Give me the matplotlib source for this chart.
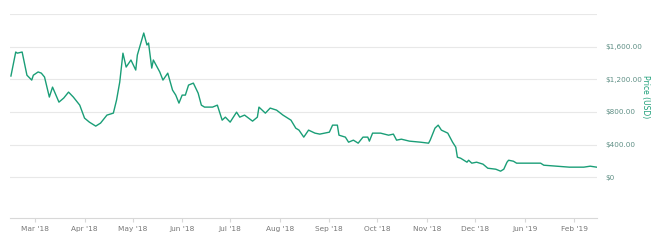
import matplotlib
matplotlib.use("Agg")
import matplotlib.pyplot as plt
import numpy as np

# price readings (USD) off the reference
dates = [
    "2018-02-14", "2018-02-17", "2018-02-18", "2018-02-21", "2018-02-24", "2018-02-27",
    "2018-02-28", "2018-03-03", "2018-03-05", "2018-03-07", "2018-03-10", "2018-03-12",
    "2018-03-16", "2018-03-19", "2018-03-22", "2018-03-25", "2018-03-29", "2018-04-01",
    "2018-04-04", "2018-04-08", "2018-04-11", "2018-04-15", "2018-04-19", "2018-04-21",
    "2018-04-23", "2018-04-25", "2018-04-27", "2018-04-30", "2018-05-03", "2018-05-04",
    "2018-05-08", "2018-05-10", "2018-05-11", "2018-05-13", "2018-05-14", "2018-05-18",
    "2018-05-20", "2018-05-23", "2018-05-26", "2018-05-28", "2018-05-30", "2018-06-01",
    "2018-06-03", "2018-06-05", "2018-06-08", "2018-06-11", "2018-06-13", "2018-06-15",
    "2018-06-20", "2018-06-23", "2018-06-26", "2018-06-28", "2018-07-01", "2018-07-03",
    "2018-07-05", "2018-07-07", "2018-07-10", "2018-07-15", "2018-07-18", "2018-07-19",
    "2018-07-23", "2018-07-26", "2018-07-30", "2018-08-03", "2018-08-08", "2018-08-11",
    "2018-08-13", "2018-08-16", "2018-08-19", "2018-08-23", "2018-08-26", "2018-08-29",
    "2018-09-01", "2018-09-03", "2018-09-06", "2018-09-07", "2018-09-11", "2018-09-13",
    "2018-09-16", "2018-09-19", "2018-09-22", "2018-09-25", "2018-09-26", "2018-09-28",
    "2018-10-03", "2018-10-08", "2018-10-11", "2018-10-13", "2018-10-16", "2018-10-21",
    "2018-10-28", "2018-11-02", "2018-11-03", "2018-11-06", "2018-11-08", "2018-11-10",
    "2018-11-14", "2018-11-17", "2018-11-19", "2018-11-20", "2018-11-22", "2018-11-26",
    "2018-11-27", "2018-11-29", "2018-12-02", "2018-12-06", "2018-12-09", "2018-12-14",
    "2018-12-17", "2018-12-19", "2018-12-21", "2018-12-22", "2018-12-25", "2018-12-27",
    "2019-01-04", "2019-01-11", "2019-01-13", "2019-01-21", "2019-01-29", "2019-02-07",
    "2019-02-11", "2019-02-15",
]
prices = [
    1240, 1534, 1520, 1534, 1250, 1190,
    1250, 1290, 1275, 1227, 982, 1104,
    920, 970, 1043, 982, 883, 724,
    675, 626, 663, 761, 785, 945,
    1166, 1520, 1350, 1436, 1313, 1497,
    1767, 1620, 1644, 1337, 1436, 1290,
    1190, 1275, 1067, 1006, 908, 1006,
    1006, 1129, 1153, 1030, 883, 859,
    859, 883, 699, 736, 675, 736,
    797, 736, 761, 687, 736, 859,
    785, 847, 822, 761, 699, 601,
    577, 491, 577, 540, 528, 540,
    552, 638, 638, 515, 491, 429,
    454, 417, 491, 491, 442, 540,
    540, 515, 528, 454, 466, 442,
    429, 417, 454, 601, 638, 577,
    540, 429, 368, 245, 233, 184,
    208, 172, 184, 160, 110, 98,
    74, 98, 184, 208, 196, 172,
    172, 172, 147, 135, 123, 123,
    135, 123,
]

tick_dates = ["2018-03-01", "2018-04-01", "2018-05-01", "2018-06-01", "2018-07-01",
              "2018-08-01", "2018-09-01", "2018-10-01", "2018-11-01", "2018-12-01",
              "2019-01-01", "2019-02-01"]
tick_labels = ["Mar '18", "Apr '18", "May '18", "Jun '18", "Jul '18", "Aug '18",
               "Sep '18", "Oct '18", "Nov '18", "Dec '18", "Jun '19", "Feb '19"]
y_ticks = [0, 400, 800, 1200, 1600]
y_labels = ["$0", "$400.00", "$800.00", "$1,200.00", "$1,600.00"]

green = "#1a9e77"

fig = plt.figure(figsize=(6.56, 2.44), dpi=100)
ax = fig.add_axes([10 / 656, 26 / 244, 587 / 656, 204 / 244])

x = np.array(dates, dtype="datetime64[D]")
ax.plot(x, prices, color=green, lw=1.0)

ax.set_ylim(-500, 2000)
ax.set_xlim(np.datetime64("2018-02-13T10:00"), np.datetime64("2019-02-15T06:00"))

for v in [0, 400, 800, 1200, 1600, 2000]:
    ax.axhline(v, color="#e8e8e8", lw=0.8, zorder=0)

for s in ["top", "left", "right"]:
    ax.spines[s].set_visible(False)
ax.spines["bottom"].set_color("#d8d8d8")
ax.spines["bottom"].set_linewidth(0.8)

ax.set_xticks(np.array(tick_dates, dtype="datetime64[D]"))
ax.set_xticklabels(tick_labels, fontsize=5.3, color="#777777")
ax.tick_params(axis="x", length=3, color="#d8d8d8", pad=3)

ax.yaxis.tick_right()
ax.set_yticks(y_ticks)
ax.set_yticklabels(y_labels, fontsize=5.2, color="#5f8f85")
ax.tick_params(axis="y", length=0, pad=6)

fig.text(645 / 656, 1 - 97 / 244, "Price (USD)", rotation=270, fontsize=5.5,
         color=green, ha="center", va="center")

fig.savefig("out.png", dpi=100)
